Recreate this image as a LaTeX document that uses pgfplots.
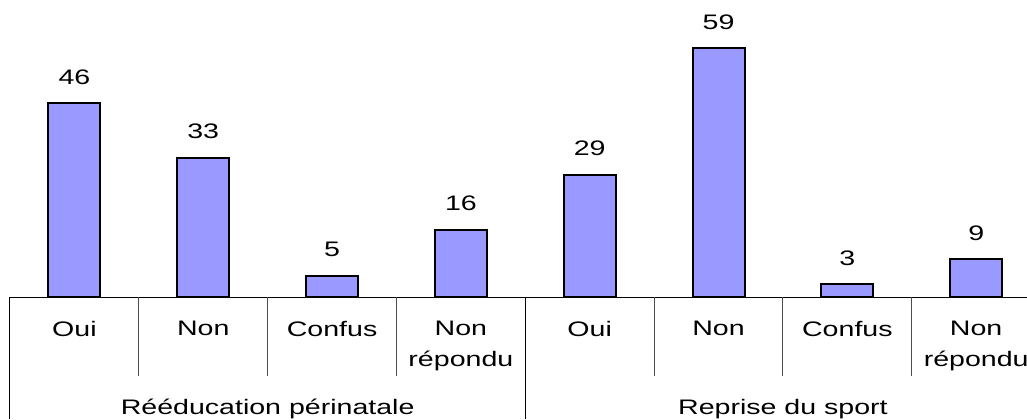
\documentclass[border=0pt]{standalone}
\usepackage{fontspec}
\setmainfont{Liberation Sans}[FakeStretch=1.36]
\usepackage{pgfplots}
\pgfplotsset{compat=1.18}
\usetikzlibrary{calc}
\definecolor{barblue}{HTML}{9999FF}

\begin{document}
\begin{tikzpicture}
\path[use as bounding box] (-5pt,-61pt) rectangle (508.5pt,148.5pt);
\begin{axis}[
    name=ax,
    scale only axis,
    width=515.3pt,
    height=148.5pt,
    xmin=-0.5, xmax=7.5,
    ymin=0, ymax=70.5,
    axis x line=bottom,
    axis y line=none,
    x axis line style={-, black, line width=0.5pt},
    xtick={0,...,7},
    xticklabels={Oui,Non,Confus,Non\\répondu,Oui,Non,Confus,Non\\répondu},
    major tick length=0pt,
    xticklabel style={anchor=north, inner sep=0pt, yshift=-12pt, align=center,
        font=\fontsize{10.5}{15.5}\selectfont},
    clip=false,
    /pgf/number format/assume math mode=true,
]
\addplot[ybar, bar width=26pt, fill=barblue, draw=black, line width=1pt,
    nodes near coords,
    every node near coord/.append style={font=\fontsize{10.5}{12}\selectfont,
        black, anchor=base, yshift=9.5pt}]
    coordinates {(0,46) (1,33) (2,5) (3,16) (4,29) (5,59) (6,3) (7,9)};
\end{axis}
\foreach \x in {0.5,1.5,2.5,4.5,5.5,6.5} {
    \draw[black!70, line width=0.5pt] ($(ax.south west)!{(\x+0.5)/8}!(ax.south east)$) -- ++(0,-39.5pt);
}
\draw[black, line width=0.5pt] (ax.south west) -- ++(0,-61pt);
\draw[black, line width=0.5pt] ($(ax.south west)!0.5!(ax.south east)$) -- ++(0,-61pt);
\node[anchor=base, font=\fontsize{10.5}{12}\selectfont] at ($(ax.south west)!0.25!(ax.south east)+(0,-58.5pt)$) {Rééducation périnatale};
\node[anchor=base, font=\fontsize{10.5}{12}\selectfont] at ($(ax.south west)!0.75!(ax.south east)+(0,-58.5pt)$) {Reprise du sport};
\end{tikzpicture}
\end{document}
